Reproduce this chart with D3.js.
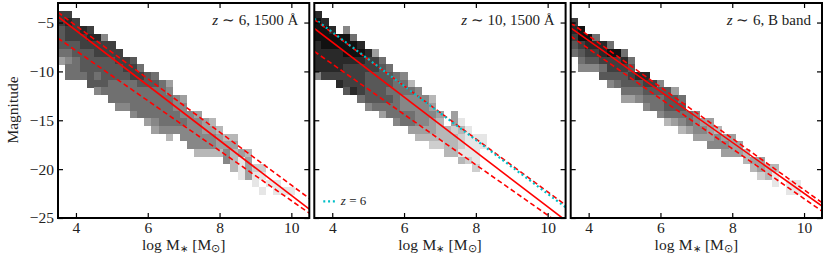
<!DOCTYPE html>
<html>
<head>
<meta charset="utf-8">
<script src="https://cdn.jsdelivr.net/npm/d3@7"></script>
<style>
  body { margin: 0; background: #fff; }
  text { font-family: "Liberation Serif", serif; fill: #222; }
</style>
</head>
<body>
<div id="chart"></div>
<script>
// heatmap rows: [row index, first mass bin, density levels] (0 = empty bin)
var cellsA = [
  [1, 0, [8,8]],
  [2, 0, [8,9,8]],
  [3, 0, [7,8,8,9,8]],
  [4, 0, [7,8,8,8,9,9,5]],
  [5, 0, [7,7,7,8,8,8,8,8]],
  [6, 0, [6,6,7,7,7,8,8,8,8]],
  [7, 0, [4,5,6,7,7,7,7,7,8,8,7]],
  [8, 1, [6,6,7,7,7,7,7,7,8,8,6]],
  [9, 1, [6,6,6,7,6,7,7,7,7,8,8,7,6]],
  [10, 4, [7,7,7,6,6,6,6,7,7,7,6,4]],
  [11, 5, [5,6,6,6,6,6,6,6,6,6,5]],
  [12, 7, [6,6,6,6,6,6,6,6,6,5,4]],
  [13, 8, [5,5,6,6,6,6,6,6,5,5]],
  [14, 10, [5,6,6,6,6,6,6,5,5,4]],
  [15, 12, [4,5,6,6,6,6,5,5,4,3]],
  [16, 13, [4,5,5,5,5,5,5,4,4,3]],
  [17, 15, [3,0,5,5,5,5,5,4,3,3]],
  [18, 18, [5,5,5,5,4,4,4]],
  [19, 19, [3,3,3,3,5,3,4,3]],
  [20, 23, [5,3,1,4]],
  [21, 24, [3,1,4,2,2]],
  [22, 25, [1,4,1,1]],
  [23, 27, [1,0,1,1]],
  [24, 28, [1,0,1,1,1]]
];
var cellsB = [
  [1, 0, [9]],
  [2, 0, [10,9]],
  [3, 0, [10,10,9,0,5]],
  [4, 0, [10,10,10,10,10,6]],
  [5, 0, [9,10,10,10,10,10,9]],
  [6, 0, [9,9,9,9,10,10,10,9,4]],
  [7, 0, [9,9,9,9,9,9,9,8,8,6]],
  [8, 0, [9,9,9,9,8,8,8,8,8,7,6]],
  [9, 0, [5,8,8,8,8,8,8,7,7,7,7,6,5]],
  [10, 3, [9,8,8,8,7,7,7,7,6,6,3]],
  [11, 4, [7,9,8,7,7,7,6,6,6,6,5]],
  [12, 6, [6,7,7,7,7,6,5,5,5,5,3]],
  [13, 7, [5,6,6,6,6,5,5,5,5,4]],
  [14, 9, [4,6,6,6,6,5,5,5,4,0,4]],
  [15, 11, [5,6,6,5,5,4,3,0,4,1]],
  [16, 13, [4,4,4,4,3,3,2,3,1]],
  [17, 14, [3,3,3,3,3,3,2,1,1,1]],
  [18, 16, [2,2,3,3,2,1,1,1]],
  [19, 18, [3,3,1,1,1]],
  [20, 20, [3,2,1]],
  [21, 22, [2]]
];
var cellsC = [
  [2, 0, [8]],
  [3, 0, [9,10]],
  [4, 0, [8,10,10,6]],
  [5, 0, [7,8,9,9,9,6]],
  [6, 0, [6,7,8,8,9,10,10,6]],
  [7, 1, [6,7,7,8,8,8,9,6]],
  [8, 1, [5,5,5,6,8,8,8,7]],
  [9, 4, [7,7,7,7,8,9,9]],
  [10, 5, [5,6,7,7,7,8,8,5]],
  [11, 7, [6,6,6,7,7,7,7,4]],
  [12, 7, [4,4,5,6,6,6,7,7,6]],
  [13, 10, [5,6,6,7,7,7]],
  [14, 12, [5,6,6,6,6,5]],
  [15, 13, [3,4,5,6,5,4,4]],
  [16, 15, [3,4,5,5,4,3]],
  [17, 17, [4,4,4,5,4,4]],
  [18, 19, [5,5,5,4,4]],
  [19, 21, [4,4,4,3]],
  [20, 24, [3,4,4]],
  [21, 25, [3,4,3,3]],
  [22, 26, [2,3,1]],
  [23, 28, [1,0,1,1]],
  [24, 30, [1,1]]
];

// fit lines: magnitude at logM = 3.5 and logM = 10.5
var fitMass = [3.5, 10.5];
var fitA = {mid: [-4.4, -24.1], up: [-3.95, -23.0], low: [-6.6, -24.5]};
var fitB = {mid: [-5.6, -25.25], up: [-4.7, -23.67], low: [-7.95, -26.0]};
var fitC = {mid: [-5.55, -23.77], up: [-5.03, -23.43], low: [-6.4, -24.3]};
var z6Line = [-4.6, -23.9];

var xTicks = [4, 6, 8, 10];
var yTicks = [-5, -10, -15, -20, -25];
var massBins = 35, magRows = 28;

var panels = [
  {left: 58, cells: cellsA, fit: fitA, label: ["z", " ∼ 6, 1500 Å"]},
  {left: 314.3, cells: cellsB, fit: fitB, label: ["z", " ∼ 10, 1500 Å"], z6: true},
  {left: 570.7, cells: cellsC, fit: fitC, label: ["z", " ∼ 6, B band"]}
];

var panelWidth = 251.3, plotTop = 3, plotBottom = 218;

var svg = d3.select("#chart").append("svg")
  .attr("width", 830)
  .attr("height", 260)
  .style("display", "block");

var y = d3.scaleLinear().domain([-25, -3]).range([plotBottom, plotTop]);
var shade = d3.scaleLinear().domain([1, 10]).range(["#e6e6e6", "#111111"]);
var fmt = function(d) { return String(d).replace("-", "\u2212"); };

var defs = svg.append("defs");

panels.forEach(function(p, i) {
  var x = d3.scaleLinear().domain([3.5, 10.5]).range([0, panelWidth]);
  var g = svg.append("g").attr("transform", "translate(" + p.left + ",0)");

  defs.append("clipPath").attr("id", "clip" + i)
    .append("rect")
      .attr("x", 0).attr("y", plotTop)
      .attr("width", panelWidth).attr("height", plotBottom - plotTop);

  var plot = g.append("g").attr("clip-path", "url(#clip" + i + ")");

  // heatmap
  var binW = x(3.7) - x(3.5);
  var binH = (plotBottom - plotTop) / magRows;
  p.cells.forEach(function(row) {
    row[2].forEach(function(v, j) {
      if (!v) return;
      plot.append("rect")
        .attr("x", x(3.5 + (row[1] + j) * 7 / massBins))
        .attr("y", y(-3 - row[0] * 22 / magRows))
        .attr("width", binW + 0.1)
        .attr("height", binH + 0.1)
        .attr("shape-rendering", "crispEdges")
        .style("fill", shade(v));
    });
  });

  // fit lines
  var line = d3.line()
    .x(function(d, k) { return x(fitMass[k]); })
    .y(function(d) { return y(d); });

  plot.append("path").attr("d", line(p.fit.mid))
    .style("fill", "none").style("stroke", "#f00").style("stroke-width", 1.6);
  [p.fit.up, p.fit.low].forEach(function(f) {
    plot.append("path").attr("d", line(f))
      .style("fill", "none").style("stroke", "#f00").style("stroke-width", 1.6)
      .style("stroke-dasharray", "5,3");
  });
  if (p.z6) {
    plot.append("path").attr("d", line(z6Line))
      .style("fill", "none").style("stroke", "#00bfc8").style("stroke-width", 2.2)
      .style("stroke-dasharray", "2,2.8");
    plot.append("line")
      .attr("x1", x(3.75)).attr("x2", x(4.15))
      .attr("y1", y(-23.3)).attr("y2", y(-23.3))
      .style("stroke", "#00bfc8").style("stroke-width", 2.2)
      .style("stroke-dasharray", "2,2.8");
    var zt = g.append("text").attr("x", x(4.24)).attr("y", y(-23.3) + 4)
      .style("font-size", "13px");
    zt.append("tspan").style("font-style", "italic").text("z");
    zt.append("tspan").text(" = 6");
  }

  // axes, ticks point inward on all four sides
  var axes = [
    {a: d3.axisBottom(x).tickValues(xTicks).tickFormat(d3.format("d")), t: "translate(0," + plotBottom + ")"},
    {a: d3.axisTop(x).tickValues(xTicks).tickFormat(""), t: "translate(0," + plotTop + ")"},
    {a: d3.axisLeft(y).tickValues(yTicks).tickFormat(i == 0 ? fmt : ""), t: "translate(0,0)"},
    {a: d3.axisRight(y).tickValues(yTicks).tickFormat(""), t: "translate(" + panelWidth + ",0)"}
  ];
  axes.forEach(function(ax) {
    var sel = g.append("g").attr("transform", ax.t)
      .call(ax.a.tickSizeInner(-5).tickSizeOuter(0).tickPadding(4));
    sel.selectAll(".domain").remove();
    sel.selectAll(".tick line").style("stroke", "#000").style("stroke-width", 1.2);
    sel.selectAll("text").style("font-size", "15.5px")
      .style("font-family", "Liberation Serif").style("fill", "#222");
  });

  g.append("rect")
    .attr("x", 0).attr("y", plotTop)
    .attr("width", panelWidth).attr("height", plotBottom - plotTop)
    .style("fill", "none").style("stroke", "#000").style("stroke-width", 2);

  // panel label
  var lab = g.append("text")
    .attr("x", panelWidth - 11).attr("y", 25)
    .attr("text-anchor", "end")
    .style("font-size", "15px");
  lab.append("tspan").style("font-style", "italic").text(p.label[0]);
  lab.append("tspan").text(p.label[1]);

  // x label
  var xl = g.append("text")
    .attr("x", panelWidth / 2).attr("y", 250)
    .attr("text-anchor", "middle")
    .style("font-size", "15.5px")
    .style("word-spacing", "0.5px");
  xl.append("tspan").text("log M");
  xl.append("tspan").attr("dy", 2).style("font-size", "10px").text("∗");
  xl.append("tspan").attr("dy", -2).text(" [M");
  xl.append("tspan").attr("dy", 2).style("font-size", "11px").text("⊙");
  xl.append("tspan").attr("dy", -2).text("]");
});

svg.append("text")
  .attr("transform", "translate(17.5,110) rotate(-90)")
  .attr("text-anchor", "middle")
  .style("font-size", "15.5px")
  .text("Magnitude");
</script>
</body>
</html>
